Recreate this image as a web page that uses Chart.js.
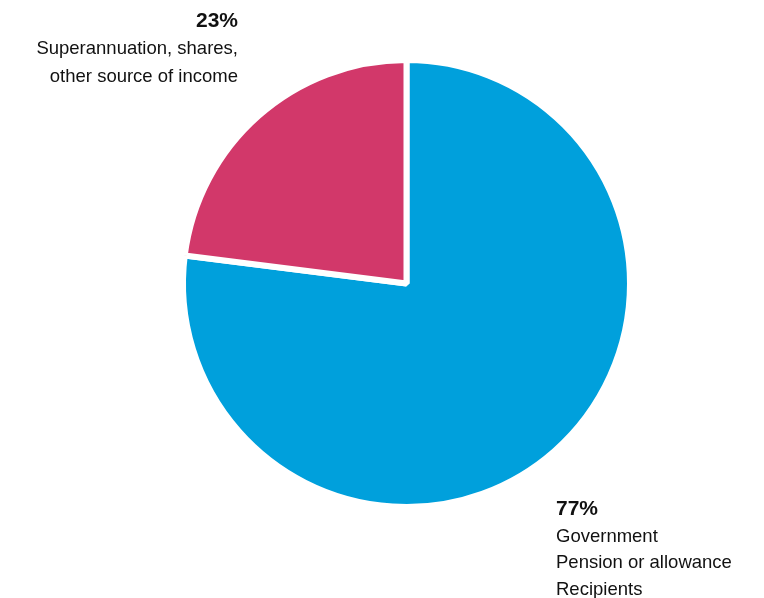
<!DOCTYPE html>
<html>
<head>
<meta charset="utf-8">
<script src="https://cdn.jsdelivr.net/npm/chart.js@4/dist/chart.umd.min.js"></script>
<style>
  html, body { margin: 0; padding: 0; background: #ffffff; }
  #wrap { width: 764px; height: 598px; position: relative; }
</style>
</head>
<body>
<div id="wrap"><canvas id="c" width="764" height="598"></canvas></div>
<script>
const categories = ["Government Pension or allowance Recipients", "Superannuation, shares, other source of income"];
const values = [77, 23];
const percentLabels = ["77%", "23%"];
const labelLines = [["Government", "Pension or allowance", "Recipients"], ["Superannuation, shares,", "other source of income"]];
const colors = ["#00A0DC", "#D2386A"];

const labelPlugin = {
  id: 'sliceLabels',
  afterDraw(chart) {
    const ctx = chart.ctx;
    ctx.save();
    ctx.fillStyle = '#111111';
    ctx.textBaseline = 'alphabetic';
    const bold = 'bold 21px "Liberation Sans", Arial, sans-serif';
    const reg = '18.5px "Liberation Sans", Arial, sans-serif';
    // bottom-right label (first slice)
    const bx = 556, by = 515, lh = 26.7;
    ctx.textAlign = 'left';
    ctx.font = bold;
    ctx.fillText(percentLabels[0], bx, by);
    ctx.font = reg;
    labelLines[0].forEach((t, i) => ctx.fillText(t, bx, by + lh * (i + 1)));
    // top-left label (second slice)
    const tx = 238, ty = 27, lh2 = 27.3;
    ctx.textAlign = 'right';
    ctx.font = bold;
    ctx.fillText(percentLabels[1], tx, ty);
    ctx.font = reg;
    labelLines[1].forEach((t, i) => ctx.fillText(t, tx, ty + lh2 * (i + 1)));
    ctx.restore();
  }
};

new Chart(document.getElementById('c'), {
  type: 'pie',
  data: {
    labels: categories,
    datasets: [{
      data: values,
      backgroundColor: colors,
      borderColor: '#ffffff',
      borderWidth: 6,
      hoverOffset: 0
    }]
  },
  options: {
    responsive: false,
    animation: false,
    layout: { padding: { left: 180, right: 131, top: 57, bottom: 88 } },
    plugins: { legend: { display: false }, tooltip: { enabled: false } }
  },
  plugins: [labelPlugin]
});
</script>
</body>
</html>
